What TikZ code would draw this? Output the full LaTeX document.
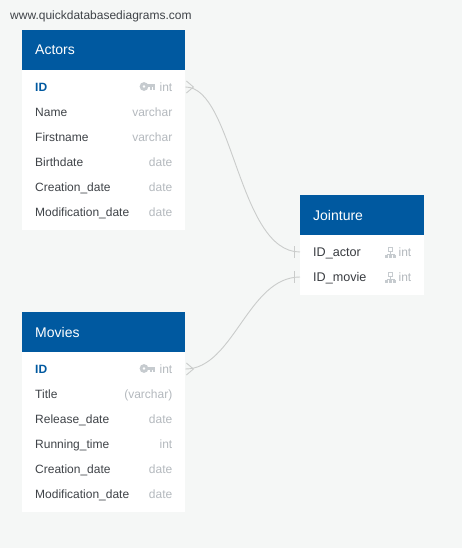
\documentclass[tikz,border=0pt]{standalone}
\usepackage{fontspec}
\setmainfont{Liberation Sans}
\usetikzlibrary{calc}
\definecolor{pagebg}{HTML}{F5F7F6}
\definecolor{headblue}{HTML}{0059A0}
\definecolor{fieldgrey}{HTML}{3F4348}
\definecolor{typegrey}{HTML}{B4B9BE}
\definecolor{icongrey}{HTML}{C6CBCF}
\definecolor{linkgrey}{HTML}{CACCCB}
\newcommand{\keyicon}[1]{%
\fill[icongrey, even odd rule] ($(#1)+(-3,0)$) circle (4.4) ($(#1)+(-3,0)$) circle (1.6);
\fill[icongrey] ($(#1)+(0,-2)$) rectangle ($(#1)+(8,1)$);
\fill[icongrey] ($(#1)+(3,0)$) rectangle ($(#1)+(5,3.5)$);
\fill[icongrey] ($(#1)+(6,0)$) rectangle ($(#1)+(8,3.5)$);
}
\newcommand{\treeicon}[1]{%
\draw[icongrey, line width=1] ($(#1)+(-2,-5)$) rectangle ($(#1)+(2,-1.5)$);
\draw[icongrey, line width=1] ($(#1)+(0,-1.5)$) -- ($(#1)+(0,1.5)$);
\draw[icongrey, line width=1] ($(#1)+(-4,1.5)$) -- ($(#1)+(4,1.5)$);
\fill[icongrey] ($(#1)+(-5.5,2.5)$) rectangle ($(#1)+(-2.5,5)$);
\fill[icongrey] ($(#1)+(-1.5,2.5)$) rectangle ($(#1)+(1.5,5)$);
\fill[icongrey] ($(#1)+(2.5,2.5)$) rectangle ($(#1)+(5.5,5)$);
}
\begin{document}
\begin{tikzpicture}[x=1pt, y=-1pt,
  tablehead/.style={fill=headblue, text=white, font=\fontsize{14}{16}\selectfont, anchor=west, inner xsep=13pt, inner ysep=0pt, minimum height=40pt, text height=10pt, text depth=0pt},
  tablebody/.style={fill=white, inner sep=0pt, anchor=north west},
  fieldrow/.style={inner xsep=13pt, inner ysep=0pt, minimum height=25pt, anchor=west, text height=9pt, text depth=0pt, font=\fontsize{12}{14}\selectfont, text=fieldgrey},
  keyrow/.style={fieldrow, text=headblue, font=\fontsize{12}{14}\selectfont\bfseries},
  jointrow/.style={fieldrow, font=\fontsize{12.6}{14}\selectfont, text=fieldgrey!90!black},
  fieldtype/.style={inner sep=0pt, anchor=east, text height=9pt, text depth=0pt, font=\fontsize{12}{14}\selectfont, text=typegrey},
  link/.style={draw=linkgrey, line width=0.9pt}]
\useasboundingbox[fill=pagebg] (0,0) rectangle (462,548);

\node[anchor=west, inner sep=0pt, text=fieldgrey, font=\fontsize{12}{14}\selectfont] (site) at (10,16) {www.quickdatabasediagrams.com};

% Actors
\node[tablebody, minimum width=163pt, minimum height=160pt] (actorsbody) at (22,70) {};
\node[tablehead, minimum width=163pt, text width=137pt] (actors) at (22,50) {Actors};
\node[keyrow, text width=137pt] (actorsid) at (22,87) {ID};
\node[fieldrow, text width=137pt] (actorsname) at (22,112) {Name};
\node[fieldrow, text width=137pt] (actorsfirst) at (22,137) {Firstname};
\node[fieldrow, text width=137pt] (actorsbirth) at (22,162) {Birthdate};
\node[fieldrow, text width=137pt] (actorscreate) at (22,187) {Creation\_date};
\node[fieldrow, text width=137pt] (actorsmodif) at (22,212) {Modification\_date};
\node[fieldtype] (actorsidt) at (172.5,87) {int};
\node[fieldtype] (actorsnamet) at (172.5,112) {varchar};
\node[fieldtype] (actorsfirstt) at (172.5,137) {varchar};
\node[fieldtype] (actorsbirtht) at (172.5,162) {date};
\node[fieldtype] (actorscreatet) at (172.5,187) {date};
\node[fieldtype] (actorsmodift) at (172.5,212) {date};
\keyicon{147,86.5}

% Movies
\node[tablebody, minimum width=163pt, minimum height=160pt] (moviesbody) at (22,352) {};
\node[tablehead, minimum width=163pt, text width=137pt] (movies) at (22,332) {Movies};
\node[keyrow, text width=137pt] (moviesid) at (22,369) {ID};
\node[fieldrow, text width=137pt] (moviestitle) at (22,394) {Title};
\node[fieldrow, text width=137pt] (moviesrelease) at (22,419) {Release\_date};
\node[fieldrow, text width=137pt] (moviesrun) at (22,444) {Running\_time};
\node[fieldrow, text width=137pt] (moviescreate) at (22,469) {Creation\_date};
\node[fieldrow, text width=137pt] (moviesmodif) at (22,494) {Modification\_date};
\node[fieldtype] (moviesidt) at (172.5,369) {int};
\node[fieldtype] (moviestitlet) at (172.5,394) {(varchar)};
\node[fieldtype] (moviesreleaset) at (172.5,419) {date};
\node[fieldtype] (moviesrunt) at (172.5,444) {int};
\node[fieldtype] (moviescreatet) at (172.5,469) {date};
\node[fieldtype] (moviesmodift) at (172.5,494) {date};
\keyicon{147,368.5}

% Jointure
\node[tablebody, minimum width=124pt, minimum height=60pt] (jointbody) at (300,235) {};
\node[tablehead, minimum width=124pt, text width=98pt] (joint) at (300,215) {Jointure};
\node[jointrow, text width=98pt] (jointactor) at (300,252) {ID\_actor};
\node[jointrow, text width=98pt] (jointmovie) at (300,277) {ID\_movie};
\node[fieldtype] (jointactort) at (411.5,252) {int};
\node[fieldtype] (jointmoviet) at (411.5,277) {int};
\treeicon{390.5,252.5}
\treeicon{390.5,277.5}

% links
\draw[link] (actorsid.east) .. controls +(48,0) and (238,252) .. (jointactor.west);
\draw[link] (moviesid.east) .. controls +(48,0) and (248,277) .. (jointmovie.west);
\draw[link] ($(actorsid.east)+(1,-6)$) -- ($(actorsid.east)+(8,0)$) -- ($(actorsid.east)+(1,6)$);
\draw[link] ($(moviesid.east)+(1,-6)$) -- ($(moviesid.east)+(8,0)$) -- ($(moviesid.east)+(1,6)$);
\draw[link] ($(jointactor.west)+(-6,-6)$) -- ($(jointactor.west)+(-6,6)$);
\draw[link] ($(jointmovie.west)+(-6,-6)$) -- ($(jointmovie.west)+(-6,6)$);
\end{tikzpicture}
\end{document}
